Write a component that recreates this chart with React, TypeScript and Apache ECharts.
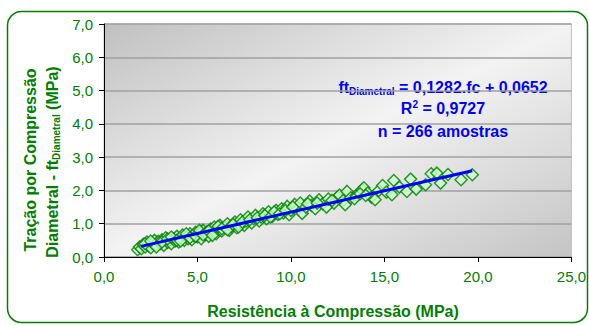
import React, { useEffect, useRef } from "react";
import * as echarts from "echarts";

const xTicks = [0, 5, 10, 15, 20, 25];
const yTicks = [0, 1, 2, 3, 4, 5, 6, 7];

const samples: number[][] = [
  [1.8, 0.22], [1.9, 0.30], [2.0, 0.25], [2.1, 0.38], [2.2, 0.30], [2.3, 0.45], [2.4, 0.33], [2.5, 0.28],
  [2.6, 0.42], [2.7, 0.50], [2.8, 0.36], [2.9, 0.47], [3.0, 0.40], [3.1, 0.52], [3.2, 0.35], [3.3, 0.58],
  [3.4, 0.44], [3.5, 0.50], [3.6, 0.40], [3.7, 0.55], [3.8, 0.48], [3.9, 0.62], [4.0, 0.45], [4.1, 0.57],
  [4.2, 0.66], [4.3, 0.50], [4.4, 0.60], [4.5, 0.55], [4.6, 0.70], [4.7, 0.52], [4.8, 0.65], [4.9, 0.74],
  [5.0, 0.60], [5.1, 0.72], [5.2, 0.55], [5.3, 0.80], [5.4, 0.68], [5.5, 0.75], [5.6, 0.62], [5.7, 0.84],
  [5.8, 0.73], [5.9, 0.90], [6.0, 0.70], [6.1, 0.82], [6.2, 0.95], [6.3, 0.78], [6.5, 0.88], [6.6, 1.00],
  [6.7, 0.80], [6.8, 0.92], [7.0, 1.05], [7.1, 0.88], [7.2, 0.98], [7.3, 1.12], [7.5, 0.95], [7.6, 1.08],
  [7.7, 1.20], [7.9, 1.02], [8.0, 1.15], [8.1, 1.25], [8.3, 1.08], [8.4, 1.20], [8.5, 1.30], [8.7, 1.15],
  [8.8, 1.36], [9.0, 1.22], [9.2, 1.40], [9.3, 1.28], [9.5, 1.45], [9.6, 1.32], [9.8, 1.52], [9.9, 1.27],
  [10.0, 1.40], [10.2, 1.58], [10.4, 1.45], [10.5, 1.62], [10.6, 1.31], [10.8, 1.50], [11.0, 1.68], [11.1, 1.55],
  [11.3, 1.45], [11.5, 1.72], [11.7, 1.60], [11.9, 1.50], [12.0, 1.74], [12.3, 1.62], [12.5, 1.80], [12.6, 1.86],
  [12.8, 1.70], [12.9, 1.57], [13.0, 1.97], [13.2, 1.78], [13.5, 1.85], [13.8, 2.02], [13.9, 2.08], [14.1, 1.92],
  [14.3, 1.80], [14.5, 1.72], [14.7, 2.00], [14.9, 2.15], [15.1, 1.95], [15.4, 1.87], [15.5, 2.30], [15.8, 2.10],
  [16.2, 1.97], [16.4, 2.34], [16.7, 2.04], [17.2, 2.17], [17.5, 2.50], [17.8, 2.52], [18.0, 2.22], [18.4, 2.48],
  [19.1, 2.32], [19.7, 2.47],
  [2.2, 0.40], [2.5, 0.48], [2.8, 0.30], [3.1, 0.45], [3.4, 0.55], [3.6, 0.60], [3.9, 0.50], [4.1, 0.48],
  [4.4, 0.70], [4.6, 0.58], [4.9, 0.62], [5.1, 0.80], [5.3, 0.66], [5.6, 0.78], [5.8, 0.65], [6.1, 0.92],
  [6.3, 0.85], [6.6, 0.82], [6.9, 0.98], [7.2, 0.90], [7.4, 1.05], [7.8, 1.12], [8.2, 1.18], [8.6, 1.25],
  [8.9, 1.20], [9.1, 1.35], [9.4, 1.30], [9.7, 1.40], [10.1, 1.50], [10.9, 1.60], [11.4, 1.62], [12.2, 1.70],
  [13.4, 1.75], [13.7, 1.90], [14.0, 1.85],
];

const trendLine: number[][] = [
  [1.98, 0.32],
  [19.7, 2.59],
];

const xTitle = "Resistência à Compressão (MPa)";
const yTitle1 = "Tração por Compressão";
const yTitle2 = "Diametral - ft{sub|Diametral} (MPa)";
const eqLine1 = "ft{sub|Diametral} = 0,1282.fc + 0,0652";
const eqLine2 = "R{sup|2} = 0,9727";
const eqLine3 = "n = 266 amostras";

const fmt = (v: number) => v.toFixed(1).replace(".", ",");

export default function App() {
  const ref = useRef<HTMLDivElement>(null);
  useEffect(() => {
    if (!ref.current) return;
    const chart = echarts.init(ref.current, null, { renderer: "svg" });
    const green = "#008000";
    const font = "Liberation Sans, Arial, sans-serif";
    chart.setOption({
      animation: false,
      grid: {
        left: 104,
        top: 24,
        right: 16,
        bottom: 68,
        show: true,
        borderColor: "#c0c0c0",
        borderWidth: 1,
        backgroundColor: {
          type: "linear",
          x: 0,
          y: 0,
          x2: 1,
          y2: 1,
          colorStops: [
            { offset: 0, color: "#c0c0c0" },
            { offset: 0.5, color: "#f3f3f3" },
            { offset: 1, color: "#c4c4c4" },
          ],
        },
      },
      xAxis: {
        type: "value",
        min: xTicks[0],
        max: xTicks[xTicks.length - 1],
        interval: 5,
        axisLine: { show: true, onZero: false, lineStyle: { color: "#000", width: 1 } },
        axisTick: { show: true, length: 5, lineStyle: { color: "#000" } },
        splitLine: { show: false },
        axisLabel: { color: green, fontSize: 15, fontFamily: font, margin: 12, formatter: fmt },
      },
      yAxis: {
        type: "value",
        min: yTicks[0],
        max: yTicks[yTicks.length - 1],
        interval: 1,
        axisLine: { show: true, lineStyle: { color: "#000", width: 1 } },
        axisTick: { show: true, length: 5, lineStyle: { color: "#000" } },
        splitLine: { show: true, lineStyle: { color: "#a0a0a0", width: 1.5 } },
        axisLabel: { color: green, fontSize: 15, fontFamily: font, margin: 11, formatter: fmt },
      },
      series: [
        {
          type: "scatter",
          data: samples,
          symbol: "diamond",
          symbolSize: 12,
          itemStyle: { color: "#ccffcc", borderColor: green, borderWidth: 1.5 },
          z: 2,
        },
        {
          type: "line",
          data: trendLine,
          showSymbol: false,
          symbol: "none",
          lineStyle: { color: "#0000ff", width: 3 },
          z: 3,
        },
      ],
      graphic: [
        {
          type: "rect",
          shape: { x: 7.5, y: 11.5, width: 580, height: 311, r: 14 },
          style: { fill: "none", stroke: green, lineWidth: 1.5 },
          z: 10,
        },
        {
          type: "text",
          x: 333,
          y: 311,
          style: {
            text: xTitle,
            fill: green,
            font: `bold 16px ${font}`,
            align: "center",
            verticalAlign: "middle",
          },
        },
        {
          type: "text",
          x: 30,
          y: 160,
          rotation: Math.PI / 2,
          style: {
            text: yTitle1,
            fill: green,
            font: `bold 16px ${font}`,
            align: "center",
            verticalAlign: "middle",
          },
        },
        {
          type: "text",
          x: 52,
          y: 162,
          rotation: Math.PI / 2,
          style: {
            text: yTitle2,
            fill: green,
            font: `bold 16px ${font}`,
            align: "center",
            verticalAlign: "middle",
            rich: {
              sub: { fill: green, font: `bold 10px ${font}`, padding: [8, 0, 0, 0] },
            },
          },
        },
        {
          type: "text",
          x: 443,
          y: 87,
          style: {
            text: eqLine1,
            fill: "#0000ff",
            font: `bold 16px ${font}`,
            align: "center",
            verticalAlign: "middle",
            rich: {
              sub: { fill: "#0000ff", font: `bold 10px ${font}`, padding: [9, 0, 0, 0] },
            },
          },
        },
        {
          type: "text",
          x: 443,
          y: 108,
          style: {
            text: eqLine2,
            fill: "#0000ff",
            font: `bold 16px ${font}`,
            align: "center",
            verticalAlign: "middle",
            rich: {
              sup: { fill: "#0000ff", font: `bold 10px ${font}`, padding: [0, 0, 7, 0] },
            },
          },
        },
        {
          type: "text",
          x: 443,
          y: 131,
          style: {
            text: eqLine3,
            fill: "#0000ff",
            font: `bold 16px ${font}`,
            align: "center",
            verticalAlign: "middle",
          },
        },
      ],
    });
    return () => chart.dispose();
  }, []);
  return (
    <div
      ref={ref}
      style={{ position: "absolute", left: 0, top: 0, width: 589, height: 325, background: "#fff" }}
    />
  );
}
